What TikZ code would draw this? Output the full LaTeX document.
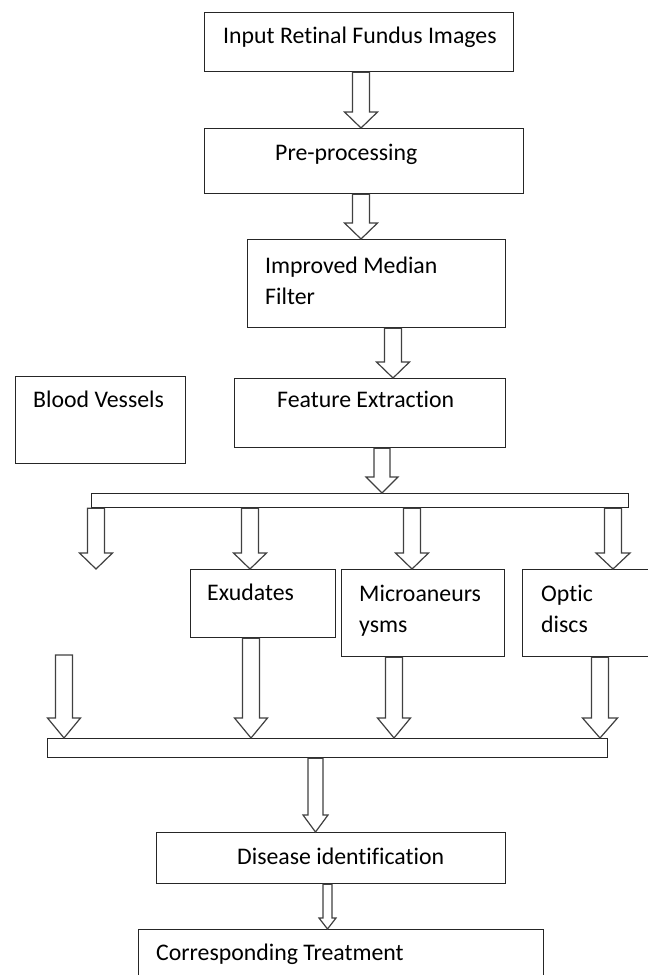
\documentclass[tikz,border=0pt]{standalone}
\usepackage{fontspec}
\setmainfont[Ligatures=NoCommon]{Carlito}
\usetikzlibrary{calc}
\newcommand{\blockarrow}[6]{%
\draw[hollow] let \p1=(#2), \p2=(#3) in
(#1-#4,\y1) -- (#1-#4,\y2+#6pt) -- (#1-#5,\y2+#6pt) -- (#1,\y2) -- (#1+#5,\y2+#6pt) -- (#1+#4,\y2+#6pt) -- (#1+#4,\y1) -- cycle;}
\begin{document}
\begin{tikzpicture}[x=1pt,y=-1pt,
box/.style={draw=black!85,line width=1.2pt,anchor=north west,inner sep=0pt},
txt/.style={anchor=base west,inner sep=0pt,font=\fontsize{23.8}{31}\selectfont,align=left},
hollow/.style={draw=black!75,line width=1.2pt,fill=white}]
\useasboundingbox (0,0) rectangle (648,975);
\node[box,minimum width=309,minimum height=59] (inp) at (204,12) {};
\node[box,minimum width=319,minimum height=65] (pre) at (204,128) {};
\node[box,minimum width=258,minimum height=88] (imf) at (247,239) {};
\node[box,minimum width=170,minimum height=87] (blood) at (15,376) {};
\node[box,minimum width=271,minimum height=69] (feat) at (234,378) {};
\node[box,minimum width=537,minimum height=14] (bar1) at (91,493) {};
\node[box,minimum width=145,minimum height=68] (exu) at (190,569) {};
\node[box,minimum width=163,minimum height=87] (mic) at (341,569) {};
\node[box,minimum width=140,minimum height=87] (opt) at (522,569) {};
\node[box,minimum width=560,minimum height=19] (bar2) at (47,738) {};
\node[box,minimum width=349,minimum height=51] (dis) at (156,832) {};
\node[box,minimum width=405,minimum height=70] (trt) at (138,929) {};
\coordinate (free1) at (96,569);
\coordinate (free2) at (64,655);

\node[txt] (inptxt) at (223,43) {Input Retinal Fundus Images};
\node[txt] (pretxt) at (275,160) {Pre-processing};
\node[txt] (imftxt) at (265,304) {Improved Median\\Filter};
\node[txt] (bloodtxt) at (33,407) {Blood Vessels};
\node[txt] (feattxt) at (277,407) {Feature Extraction};
\node[txt] (exutxt) at (207,600) {Exudates};
\node[txt] (mictxt) at (359,632) {Microaneurs\\ysms};
\node[txt] (opttxt) at (541,632) {Optic\\discs};
\node[txt] (distxt) at (237,864) {Disease identification};
\node[txt] (trttxt) at (156,960) {Corresponding Treatment};

\blockarrow{361}{inp.south}{pre.north}{8.5}{16.5}{16}
\blockarrow{361}{pre.south}{imf.north}{8.5}{16.5}{16}
\blockarrow{393}{imf.south}{feat.north}{8.5}{16.5}{16}
\blockarrow{382}{feat.south}{bar1.north}{8}{16}{16}
\blockarrow{96}{bar1.south}{free1}{8.5}{16.5}{16}
\blockarrow{250}{bar1.south}{exu.north}{8.5}{16.5}{16}
\blockarrow{412}{bar1.south}{mic.north}{8.5}{16.5}{16}
\blockarrow{613}{bar1.south}{opt.north}{8.5}{17}{16}
\blockarrow{64}{free2}{bar2.north}{8.5}{16.5}{20}
\blockarrow{251}{exu.south}{bar2.north}{8.5}{16.5}{20}
\blockarrow{394}{mic.south}{bar2.north}{8.5}{16.5}{20}
\blockarrow{600}{opt.south}{bar2.north}{8.5}{17.5}{20}
\blockarrow{315.5}{bar2.south}{dis.north}{7.5}{12.5}{17}
\blockarrow{327.5}{dis.south}{trt.north}{4.5}{8.5}{11}
\end{tikzpicture}
\end{document}
